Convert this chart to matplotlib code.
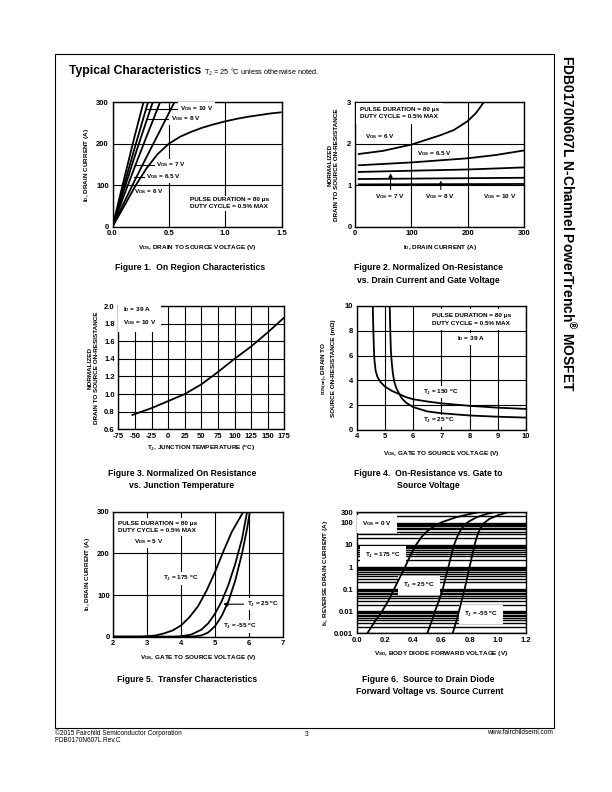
import matplotlib
matplotlib.use("Agg")
import matplotlib.pyplot as plt
from matplotlib.patches import Rectangle
from matplotlib.ticker import LogLocator, NullFormatter

plt.rcParams['font.family'] = ['Liberation Sans', 'DejaVu Sans']
plt.rcParams['mathtext.fontset'] = 'custom'
plt.rcParams['mathtext.rm'] = 'Liberation Sans:bold'
plt.rcParams['axes.unicode_minus'] = False

# ---------------- DATA ----------------
# Figure 1: On region characteristics (VDS [V], ID [A])
f1_vgs10_x = [0, 0.1, 0.2, 0.275]
f1_vgs10_y = [0, 112, 222, 300]
f1_vgs8_x = [0, 0.1, 0.2, 0.315]
f1_vgs8_y = [0, 98, 193, 300]
f1_vgs7_x = [0, 0.1, 0.2, 0.3, 0.357]
f1_vgs7_y = [0, 87, 172, 254, 300]
f1_vgs65_x = [0, 0.1, 0.2, 0.3, 0.422]
f1_vgs65_y = [0, 74, 146, 216, 300]
f1_vgs6_x = [0, 0.1, 0.2, 0.3, 0.4, 0.549]
f1_vgs6_y = [0, 57, 113, 167, 220, 300]
f1_sat_x = [0, 0.1, 0.2, 0.3, 0.4, 0.5, 0.6, 0.7, 0.8, 0.9, 1.0, 1.1, 1.2, 1.3, 1.4, 1.5]
f1_sat_y = [0, 48, 97, 140, 175, 200, 217, 229, 239, 247, 254, 260, 265, 269, 273, 276]

# Figure 2: normalized RDS(on) vs ID
f2_vgs6_x = [5, 50, 100, 150, 175, 200, 215, 228]
f2_vgs6_y = [1.75, 1.83, 1.98, 2.2, 2.33, 2.55, 2.75, 3.0]
f2_vgs65_x = [5, 100, 200, 250, 300]
f2_vgs65_y = [1.48, 1.55, 1.65, 1.73, 1.84]
f2_vgs7_x = [5, 100, 200, 300]
f2_vgs7_y = [1.32, 1.35, 1.38, 1.43]
f2_vgs8_x = [5, 100, 200, 300]
f2_vgs8_y = [1.15, 1.16, 1.17, 1.18]
f2_vgs10_x = [5, 150, 300]
f2_vgs10_y = [1.02, 1.025, 1.03]

# Figure 3: normalized RDS(on) vs TJ
f3_tj = [-55, -25, 0, 25, 50, 75, 100, 125, 150, 175]
f3_r = [0.76, 0.84, 0.92, 1.0, 1.11, 1.25, 1.4, 1.54, 1.7, 1.87]

# Figure 4: RDS(on) vs VGS
f4_t25_x = [5.17, 5.19, 5.21, 5.24, 5.28, 5.33, 5.4, 5.5, 5.6, 5.75, 6.0, 6.5, 7.0, 8.0, 9.0, 10.0]
f4_t25_y = [10, 8, 6.5, 5.5, 4.6, 3.9, 3.4, 2.95, 2.55, 2.2, 1.85, 1.5, 1.35, 1.17, 1.07, 1.0]
f4_t150_x = [4.57, 4.59, 4.61, 4.63, 4.67, 4.73, 4.85, 5.0, 5.25, 5.5, 5.75, 6.0, 6.5, 7.0, 8.0, 9.0, 10.0]
f4_t150_y = [10, 8, 6.5, 5.6, 4.8, 4.3, 3.85, 3.5, 3.15, 2.9, 2.65, 2.48, 2.3, 2.15, 1.95, 1.8, 1.7]

# Figure 5: transfer characteristics
f5_t175_x = [2.0, 2.8, 3.0, 3.25, 3.5, 3.75, 4.0, 4.25, 4.5, 4.75, 5.0, 5.25, 5.5, 5.84]
f5_t175_y = [0, 0, 1, 3, 8, 15, 27, 47, 73, 110, 155, 205, 252, 300]
f5_t25_x = [2.0, 3.8, 4.0, 4.3, 4.6, 4.8, 5.0, 5.2, 5.4, 5.6, 5.8, 5.95]
f5_t25_y = [0, 0, 1, 5, 17, 32, 55, 85, 125, 175, 235, 300]
f5_tm55_x = [2.0, 4.3, 4.6, 4.8, 5.0, 5.2, 5.4, 5.6, 5.8, 5.95, 6.03]
f5_tm55_y = [0, 0, 3, 10, 25, 50, 85, 135, 200, 260, 300]

# Figure 6: body diode forward voltage vs source current
f6_t175_x = [0.075, 0.13, 0.18, 0.225, 0.265, 0.305, 0.343, 0.38, 0.42, 0.46, 0.5, 0.55, 0.6, 0.7, 0.8, 0.86]
f6_t175_y = [0.001, 0.0035, 0.01, 0.03, 0.1, 0.33, 1, 3.3, 10, 23, 42, 70, 105, 175, 250, 300]
f6_t25_x = [0.5, 0.53, 0.555, 0.585, 0.61, 0.63, 0.65, 0.67, 0.69, 0.71, 0.735, 0.76, 0.79, 0.85, 0.92, 0.97]
f6_t25_y = [0.001, 0.0033, 0.01, 0.033, 0.1, 0.33, 1, 3.3, 10, 22, 45, 75, 110, 180, 250, 300]
f6_tm55_x = [0.68, 0.705, 0.725, 0.745, 0.765, 0.783, 0.8, 0.818, 0.835, 0.855, 0.875, 0.9, 0.94, 1.0, 1.07]
f6_tm55_y = [0.001, 0.0033, 0.01, 0.033, 0.1, 0.33, 1, 3.3, 10, 27, 55, 95, 150, 220, 300]

# tick labels
f1_xticks = [0.0, 0.5, 1.0, 1.5]
f1_xlabels = ['0.0', '0.5', '1.0', '1.5']
f1_yticks = [0, 100, 200, 300]
f2_xticks = [0, 100, 200, 300]
f2_yticks = [0, 1, 2, 3]
f3_xticks = [-75, -50, -25, 0, 25, 50, 75, 100, 125, 150, 175]
f3_yticks = [0.6, 0.8, 1.0, 1.2, 1.4, 1.6, 1.8, 2.0]
f4_xticks = [4, 5, 6, 7, 8, 9, 10]
f4_yticks = [0, 2, 4, 6, 8, 10]
f5_xticks = [2, 3, 4, 5, 6, 7]
f5_yticks = [0, 100, 200, 300]
f6_xticks = [0.0, 0.2, 0.4, 0.6, 0.8, 1.0, 1.2]
f6_yticks = [0.001, 0.01, 0.1, 1, 10, 100, 300]
f6_ylabels = ['0.001', '0.01', '0.1', '1', '10', '100', '300']

# ---------------- FIGURE ----------------
W, H = 612, 792
fig = plt.figure(figsize=(W / 100, H / 100), dpi=100)
fig.patch.set_facecolor('white')

LW = 1.3
TICKFS = 5.5
LABFS = 4.6
ANNFS = 4.6
BOX = dict(facecolor='white', edgecolor='none', pad=1.2)


def add_ax(left, right, top, bottom):
    ax = fig.add_axes([left / W, 1 - bottom / H, (right - left) / W, (bottom - top) / H])
    for s in ax.spines.values():
        s.set_linewidth(1.0)
    ax.tick_params(length=0, pad=2.5, labelsize=TICKFS)
    ax.set_axisbelow(True)
    return ax


def style_ticks(ax):
    for lab in ax.get_xticklabels() + ax.get_yticklabels():
        lab.set_fontweight('bold')
        lab.set_fontsize(TICKFS)


def grid(ax, axis='both'):
    ax.grid(True, axis=axis, color='black', lw=0.8)


def txt(ax, x, y, s, **kw):
    d = dict(fontsize=ANNFS, fontweight='bold', zorder=3)
    d.update(kw)
    ax.text(x, y, s, **d)


def curve(ax, x, y):
    ax.plot(x, y, color='black', lw=LW, zorder=4, solid_capstyle='butt')


ARROW = dict(arrowstyle='-|>,head_length=0.25,head_width=0.12', color='black', lw=0.8)

# ---- Figure 1 ----
ax1 = add_ax(112.5, 281.5, 102.3, 226.7)
ax1.set_xlim(0, 1.5)
ax1.set_ylim(0, 300)
ax1.set_xticks(f1_xticks, f1_xlabels)
ax1.set_yticks(f1_yticks)
grid(ax1)
for xs, ys in [(f1_vgs10_x, f1_vgs10_y), (f1_vgs8_x, f1_vgs8_y), (f1_vgs7_x, f1_vgs7_y),
               (f1_vgs65_x, f1_vgs65_y), (f1_vgs6_x, f1_vgs6_y), (f1_sat_x, f1_sat_y)]:
    curve(ax1, xs, ys)
ax1.plot([0.29, 0.6], [285, 285], color='black', lw=0.8, zorder=3)
txt(ax1, 0.6, 285, r'V$_{\mathregular{GS}}$ = 10 V', va='center', bbox=BOX)
ax1.plot([0.3, 0.51], [260, 260], color='black', lw=0.8, zorder=3)
txt(ax1, 0.52, 260, r'V$_{\mathregular{GS}}$ = 8 V', va='center', bbox=BOX)
ax1.plot([0.2, 0.38], [149, 149], color='black', lw=0.8, zorder=3)
txt(ax1, 0.39, 149, r'V$_{\mathregular{GS}}$ = 7 V', va='center', bbox=BOX)
ax1.plot([0.19, 0.29], [121, 121], color='black', lw=0.8, zorder=3)
txt(ax1, 0.3, 121, r'V$_{\mathregular{GS}}$ = 6.5 V', va='center', bbox=BOX)
txt(ax1, 0.19, 84, r'V$_{\mathregular{GS}}$ = 6 V', va='center')
txt(ax1, 0.69, 56, 'PULSE DURATION = 80 \u03bcs\nDUTY CYCLE = 0.5% MAX', va='center',
    linespacing=1.5, bbox=BOX)
ax1.set_xlabel(r'V$_{\mathregular{DS}}$, DRAIN TO SOURCE VOLTAGE (V)', fontsize=LABFS,
               fontweight='bold', labelpad=4)
ax1.set_ylabel(r'I$_{\mathregular{D}}$, DRAIN CURRENT (A)', fontsize=LABFS,
               fontweight='bold', labelpad=4)
style_ticks(ax1)

# ---- Figure 2 ----
ax2 = add_ax(355, 524.3, 102.3, 226.7)
ax2.set_xlim(0, 300)
ax2.set_ylim(0, 3)
ax2.set_xticks(f2_xticks)
ax2.set_yticks(f2_yticks)
grid(ax2)
for xs, ys in [(f2_vgs6_x, f2_vgs6_y), (f2_vgs65_x, f2_vgs65_y), (f2_vgs7_x, f2_vgs7_y),
               (f2_vgs8_x, f2_vgs8_y), (f2_vgs10_x, f2_vgs10_y)]:
    curve(ax2, xs, ys)
txt(ax2, 9, 2.73, 'PULSE DURATION = 80 \u03bcs\nDUTY CYCLE = 0.5% MAX', va='center',
    linespacing=1.5, bbox=dict(facecolor='white', edgecolor='none', pad=3))
txt(ax2, 18, 2.17, r'V$_{\mathregular{GS}}$ = 6 V', va='center', bbox=BOX)
txt(ax2, 109, 1.77, r'V$_{\mathregular{GS}}$ = 6.5 V', va='center', bbox=BOX)
txt(ax2, 35, 0.72, r'V$_{\mathregular{GS}}$ = 7 V', va='center', bbox=BOX)
txt(ax2, 124, 0.72, r'V$_{\mathregular{GS}}$ = 8 V', va='center', bbox=BOX)
txt(ax2, 227, 0.72, r'V$_{\mathregular{GS}}$ = 10 V', va='center', bbox=BOX)
ax2.annotate('', xy=(63, 1.36), xytext=(63, 0.83), arrowprops=ARROW, zorder=5)
ax2.annotate('', xy=(152, 1.18), xytext=(152, 0.83), arrowprops=ARROW, zorder=5)
ax2.set_xlabel(r'I$_{\mathregular{D}}$, DRAIN CURRENT (A)', fontsize=LABFS, fontweight='bold', labelpad=4)
ax2.set_ylabel('NORMALIZED\nDRAIN TO SOURCE ON-RESISTANCE', fontsize=LABFS, fontweight='bold',
               labelpad=6, linespacing=1.3)
style_ticks(ax2)

# ---- Figure 3 ----
ax3 = add_ax(118.3, 284.3, 306, 429.3)
ax3.set_xlim(-75, 175)
ax3.set_ylim(0.6, 2.0)
ax3.set_xticks(f3_xticks)
ax3.set_yticks(f3_yticks, [f'{v:.1f}' for v in f3_yticks])
grid(ax3)
curve(ax3, f3_tj, f3_r)
txt(ax3, -68, 1.885, 'I$_{\\mathregular{D}}$ = 39 A\nV$_{\\mathregular{GS}}$ = 10 V', va='center',
    linespacing=1.6, bbox=dict(facecolor='white', edgecolor='none', pad=3.5))
ax3.set_xlabel(r'T$_{\mathregular{J}}$, JUNCTION TEMPERATURE ($^{\mathregular{o}}$C)', fontsize=LABFS,
               fontweight='bold', labelpad=3)
ax3.set_ylabel('NORMALIZED\nDRAIN TO SOURCE ON-RESISTANCE', fontsize=LABFS, fontweight='bold',
               labelpad=4, linespacing=1.3)
style_ticks(ax3)

# ---- Figure 4 ----
ax4 = add_ax(356.7, 526, 306, 430)
ax4.set_xlim(4, 10)
ax4.set_ylim(0, 10)
ax4.set_xticks(f4_xticks)
ax4.set_yticks(f4_yticks)
grid(ax4)
curve(ax4, f4_t25_x, f4_t25_y)
curve(ax4, f4_t150_x, f4_t150_y)
txt(ax4, 6.66, 8.9, 'PULSE DURATION = 80 \u03bcs\nDUTY CYCLE = 0.5% MAX', va='center',
    linespacing=1.6, bbox=dict(facecolor='white', edgecolor='none', pad=3))
txt(ax4, 7.54, 7.35, r'I$_{\mathregular{D}}$ = 39 A', va='center', bbox=BOX)
txt(ax4, 6.36, 3.05, 'T$_{\\mathregular{J}}$ = 150 $^{\\mathregular{o}}$C', va='center', bbox=BOX)
txt(ax4, 6.36, 0.73, 'T$_{\\mathregular{J}}$ = 25 $^{\\mathregular{o}}$C', va='center', bbox=BOX)
ax4.set_xlabel(r'V$_{\mathregular{GS}}$, GATE TO SOURCE VOLTAGE (V)', fontsize=LABFS,
               fontweight='bold', labelpad=6)
ax4.set_ylabel('r$_{\\mathregular{DS(on)}}$, DRAIN TO\nSOURCE ON-RESISTANCE (m\u03a9)', fontsize=LABFS,
               fontweight='bold', labelpad=6, linespacing=1.3)
style_ticks(ax4)

# ---- Figure 5 ----
ax5 = add_ax(113.3, 282.7, 511.7, 636.7)
ax5.set_xlim(2, 7)
ax5.set_ylim(0, 300)
ax5.set_xticks(f5_xticks)
ax5.set_yticks(f5_yticks)
grid(ax5)
curve(ax5, f5_t175_x, f5_t175_y)
curve(ax5, f5_t25_x, f5_t25_y)
curve(ax5, f5_tm55_x, f5_tm55_y)
txt(ax5, 2.15, 264, 'PULSE DURATION = 80 \u03bcs\nDUTY CYCLE = 0.5% MAX', va='center',
    linespacing=1.6, bbox=dict(facecolor='white', edgecolor='none', pad=2))
txt(ax5, 2.6, 228, r'V$_{\mathregular{DS}}$ = 5 V', va='center', bbox=BOX)
txt(ax5, 3.48, 140, 'T$_{\\mathregular{J}}$ = 175 $^{\\mathregular{o}}$C', va='center', bbox=BOX)
txt(ax5, 5.95, 78, 'T$_{\\mathregular{J}}$ = 25 $^{\\mathregular{o}}$C', va='center', bbox=BOX)
ax5.annotate('', xy=(5.16, 78), xytext=(5.93, 78), arrowprops=ARROW, zorder=5)
txt(ax5, 5.25, 24, 'T$_{\\mathregular{J}}$ = -55 $^{\\mathregular{o}}$C', va='center', bbox=BOX)
ax5.set_xlabel(r'V$_{\mathregular{GS}}$, GATE TO SOURCE VOLTAGE (V)', fontsize=LABFS,
               fontweight='bold', labelpad=4)
ax5.set_ylabel(r'I$_{\mathregular{D}}$, DRAIN CURRENT (A)', fontsize=LABFS,
               fontweight='bold', labelpad=4)
style_ticks(ax5)

# ---- Figure 6 ----
ax6 = add_ax(356.7, 526, 512.3, 633.3)
ax6.set_yscale('log')
ax6.set_xlim(0, 1.2)
ax6.set_ylim(0.001, 300)
ax6.set_xticks(f6_xticks, [f'{v:.1f}' for v in f6_xticks])
ax6.set_yticks(f6_yticks, f6_ylabels)
ax6.yaxis.set_minor_locator(LogLocator(base=10, subs=range(2, 10), numticks=20))
ax6.yaxis.set_minor_formatter(NullFormatter())
ax6.tick_params(which='minor', length=0)
ax6.grid(True, axis='y', which='both', color='black', lw=1.0)
curve(ax6, f6_t175_x, f6_t175_y)
curve(ax6, f6_t25_x, f6_t25_y)
curve(ax6, f6_tm55_x, f6_tm55_y)
B6 = dict(facecolor='white', edgecolor='none', pad=3.5)
txt(ax6, 0.04, 90, r'V$_{\mathregular{GS}}$ = 0 V', va='center', bbox=B6)
txt(ax6, 0.06, 3.5, 'T$_{\\mathregular{J}}$ = 175 $^{\\mathregular{o}}$C', va='center', bbox=B6)
txt(ax6, 0.33, 0.14, 'T$_{\\mathregular{J}}$ = 25 $^{\\mathregular{o}}$C', va='center', bbox=B6)
txt(ax6, 0.76, 0.0072, 'T$_{\\mathregular{J}}$ = -55 $^{\\mathregular{o}}$C', va='center', bbox=B6)
ax6.set_xlabel(r'V$_{\mathregular{SD}}$, BODY DIODE FORWARD VOLTAGE (V)', fontsize=LABFS,
               fontweight='bold', labelpad=4)
ax6.set_ylabel(r'I$_{\mathregular{S}}$, REVERSE DRAIN CURRENT (A)', fontsize=LABFS,
               fontweight='bold', labelpad=3)
style_ticks(ax6)

# ---- page texts ----
def ftext(x, y, s, **kw):
    fig.text(x / W, 1 - y / H, s, **kw)

ftext(69, 71, 'Typical Characteristics', fontsize=8.7, fontweight='bold', va='center')
ftext(204, 72, 'T$_{\\mathregular{J}}$ = 25 \u00b0C unless otherwise noted.', fontsize=5.3, va='center',
      fontweight='normal')

CAP = dict(fontsize=6.2, fontweight='bold', ha='center', va='center')
ftext(190, 268, 'Figure 1.  On Region Characteristics', **CAP)
ftext(428, 268, 'Figure 2. Normalized On-Resistance', **CAP)
ftext(428, 280, 'vs. Drain Current and Gate Voltage', **CAP)
ftext(182, 474, 'Figure 3. Normalized On Resistance', **CAP)
ftext(182, 486, 'vs. Junction Temperature', **CAP)
ftext(428, 474, 'Figure 4.  On-Resistance vs. Gate to', **CAP)
ftext(428, 486, 'Source Voltage', **CAP)
ftext(187, 680, 'Figure 5.  Transfer Characteristics', **CAP)
ftext(428, 680, 'Figure 6.  Source to Drain Diode', **CAP)
ftext(430, 692, 'Forward Voltage vs. Source Current', **CAP)

ftext(568, 55, 'FDB0170N607L N-Channel PowerTrench$^{\\circledR}$ MOSFET', fontsize=10,
      fontweight='bold', rotation=-90, ha='center', va='top')

FOOT = dict(fontsize=4.7, va='center')
ftext(55, 733, '\u00a92015 Fairchild Semiconductor Corporation', **FOOT)
ftext(55, 741, 'FDB0170N607L Rev.C', **FOOT)
ftext(307, 734, '3', ha='center', **FOOT)
ftext(553, 733, 'www.fairchildsemi.com', ha='right', **FOOT)

fig.add_artist(Rectangle((55 / W, 1 - 728 / H), (554 - 55) / W, (728 - 54) / H,
                         transform=fig.transFigure, fill=False, edgecolor='black', lw=0.8))

fig.savefig('out.png', dpi=100, facecolor='white')
